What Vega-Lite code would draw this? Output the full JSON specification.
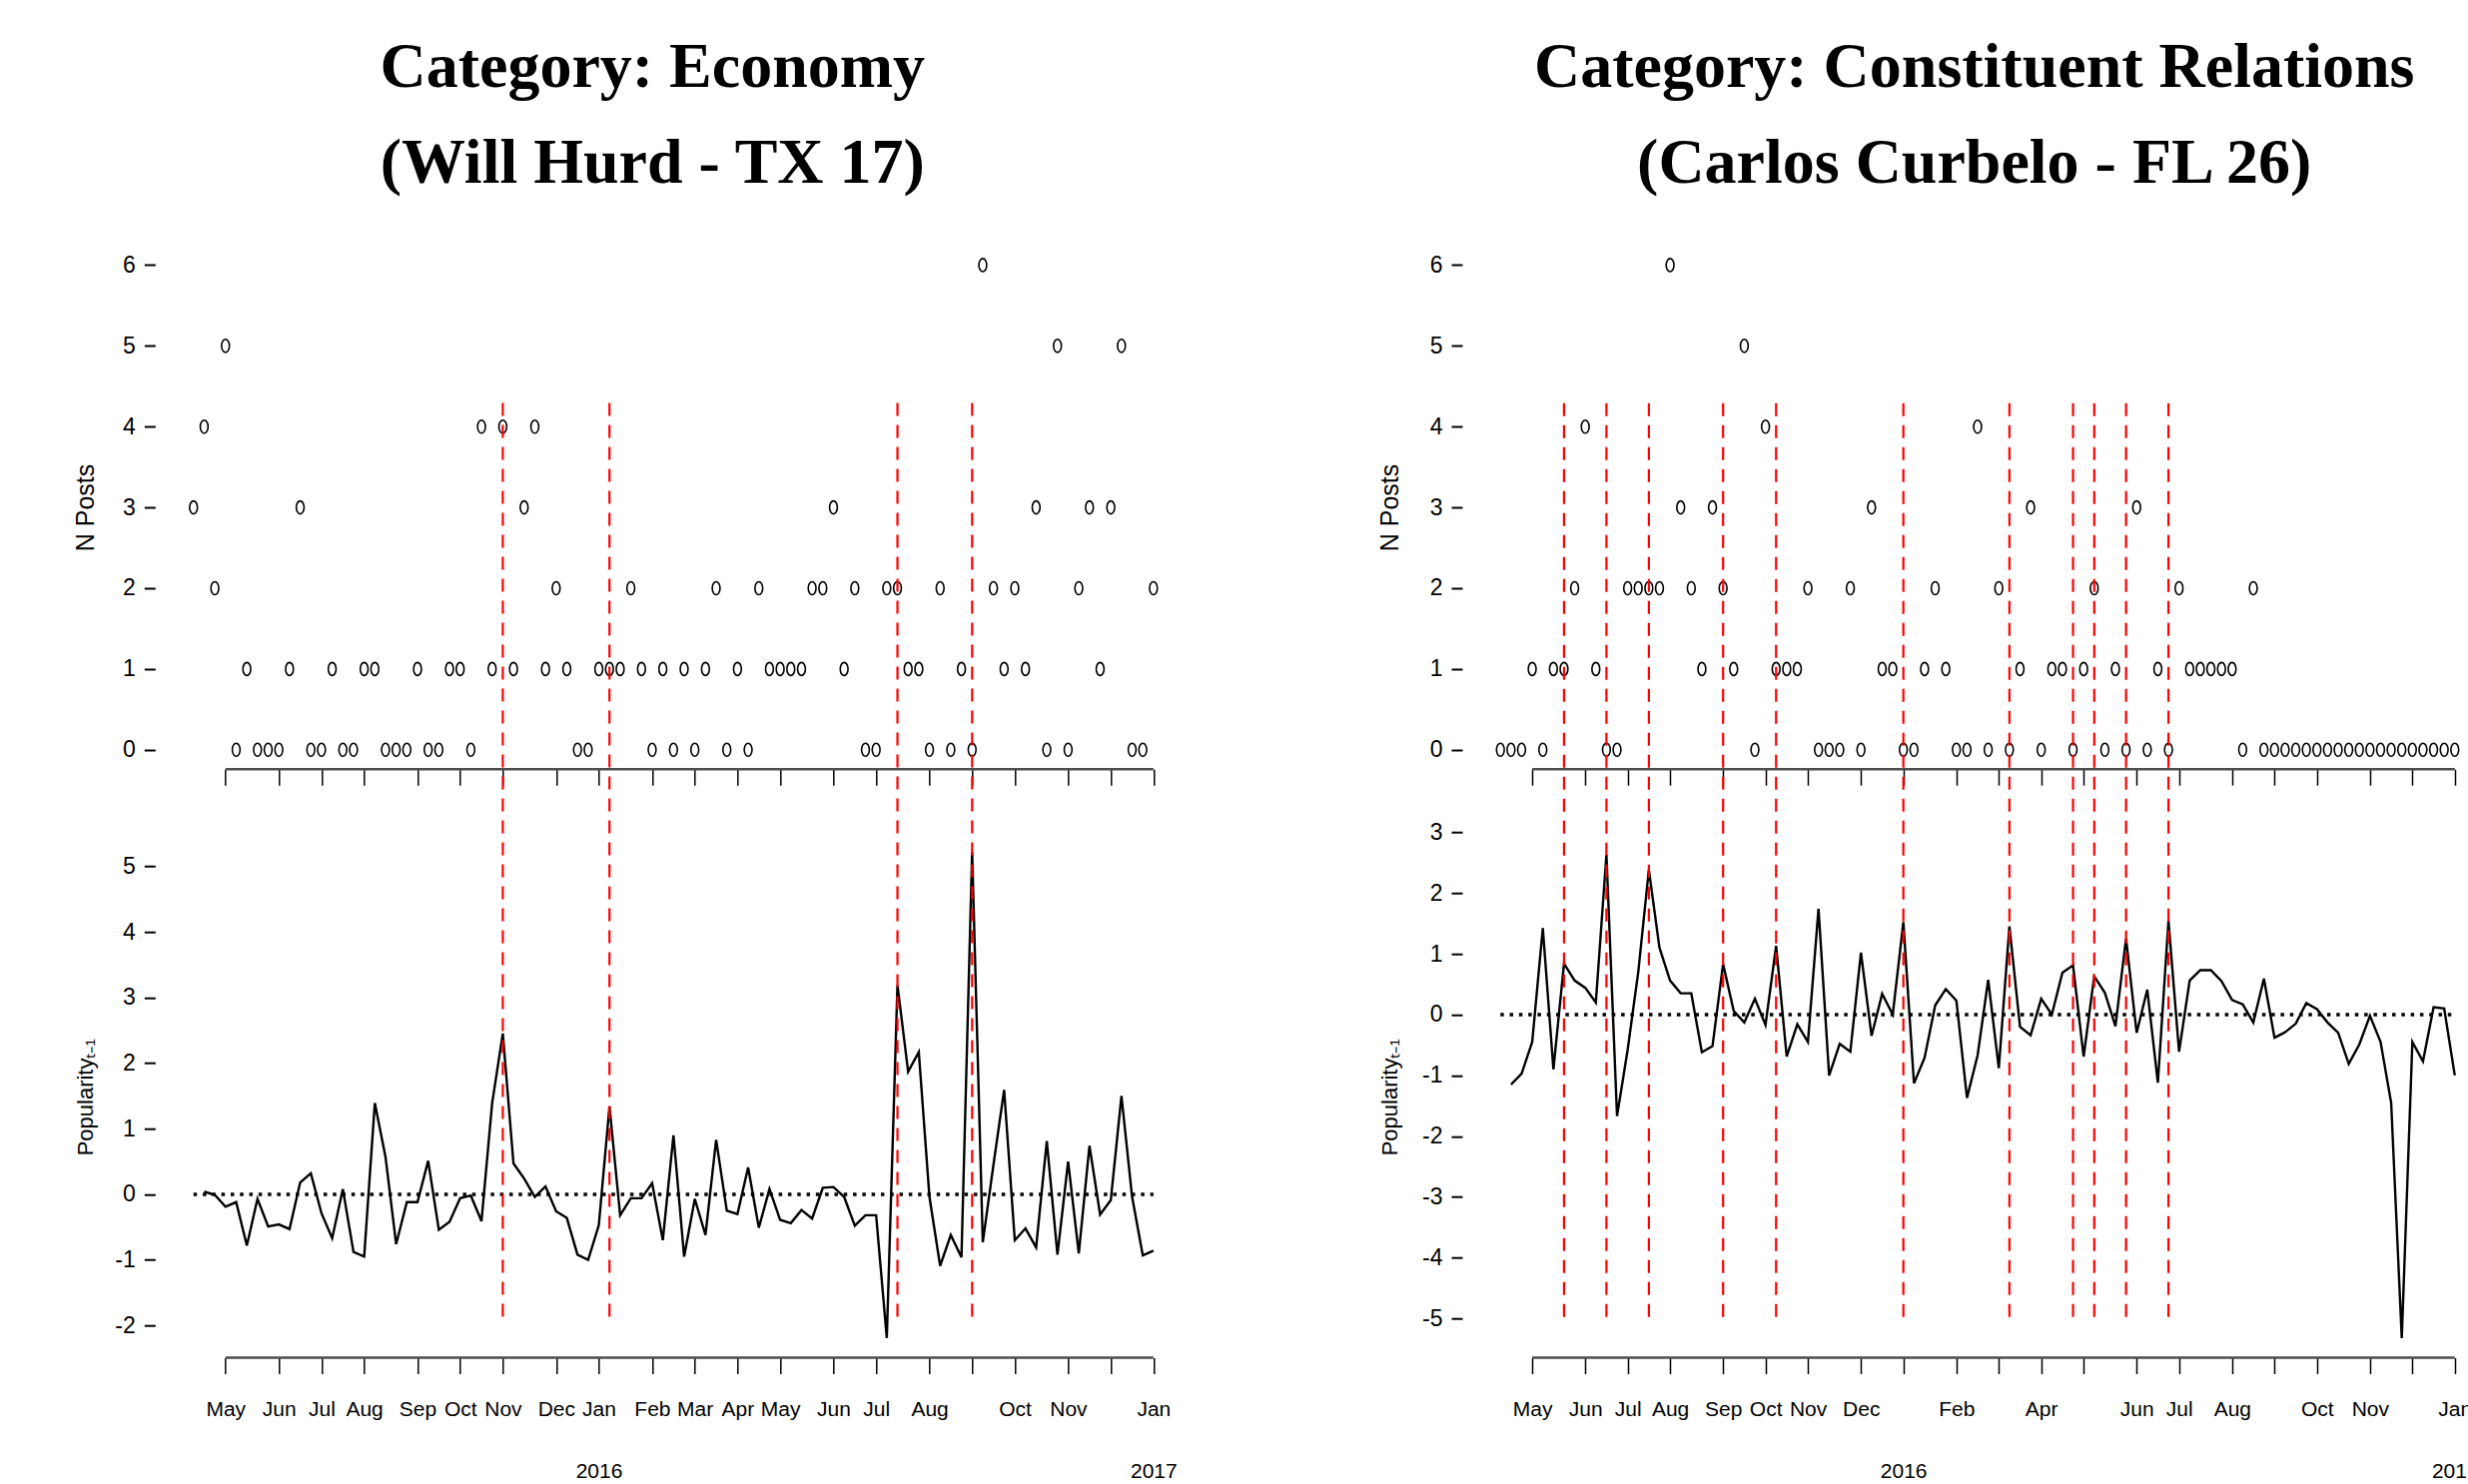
{
  "$schema": "https://vega.github.io/schema/vega-lite/v6.json",
  "usermeta": {"embedOptions": {"actions": false}},
  "background": "white",
  "padding": {"left": 73.3, "top": 36, "right": 0, "bottom": 0},
  "config": {
    "view": {"stroke": null},
    "axis": {
      "grid": false, "domain": false,
      "labelFont": "Liberation Sans, Arial, sans-serif",
      "labelFontSize": 21, "labelColor": "black",
      "tickColor": "black",
      "titleFont": "Liberation Sans, Arial, sans-serif", "titleFontWeight": "normal", "titleFontSize": 22, "titleColor": "black",
      "labelOverlap": false, "labelFlush": false, "labelBound": false
    }
  },
  "datasets": {
    "econ": [
      {"week":0,"posts":3,"pop":null},{"week":1,"posts":4,"pop":0.04},{"week":2,"posts":2,"pop":-0.01},{"week":3,"posts":5,"pop":-0.19},
      {"week":4,"posts":0,"pop":-0.12},{"week":5,"posts":1,"pop":-0.78},{"week":6,"posts":0,"pop":-0.07},{"week":7,"posts":0,"pop":-0.49},
      {"week":8,"posts":0,"pop":-0.46},{"week":9,"posts":1,"pop":-0.53},{"week":10,"posts":3,"pop":0.18},{"week":11,"posts":0,"pop":0.32},
      {"week":12,"posts":0,"pop":-0.29},{"week":13,"posts":1,"pop":-0.67},{"week":14,"posts":0,"pop":0.08},{"week":15,"posts":0,"pop":-0.88},
      {"week":16,"posts":1,"pop":-0.95},{"week":17,"posts":1,"pop":1.39},{"week":18,"posts":0,"pop":0.57},{"week":19,"posts":0,"pop":-0.76},
      {"week":20,"posts":0,"pop":-0.12},{"week":21,"posts":1,"pop":-0.12},{"week":22,"posts":0,"pop":0.51},{"week":23,"posts":0,"pop":-0.54},
      {"week":24,"posts":1,"pop":-0.42},{"week":25,"posts":1,"pop":-0.06},{"week":26,"posts":0,"pop":-0.02},{"week":27,"posts":4,"pop":-0.41},
      {"week":28,"posts":1,"pop":1.39},{"week":29,"posts":4,"pop":2.45},{"week":30,"posts":1,"pop":0.47},{"week":31,"posts":3,"pop":0.24},
      {"week":32,"posts":4,"pop":-0.04},{"week":33,"posts":1,"pop":0.12},{"week":34,"posts":2,"pop":-0.26},{"week":35,"posts":1,"pop":-0.36},
      {"week":36,"posts":0,"pop":-0.92},{"week":37,"posts":0,"pop":-1.0},{"week":38,"posts":1,"pop":-0.47},{"week":39,"posts":1,"pop":1.34},
      {"week":40,"posts":1,"pop":-0.32},{"week":41,"posts":2,"pop":-0.06},{"week":42,"posts":1,"pop":-0.06},{"week":43,"posts":0,"pop":0.17},
      {"week":44,"posts":1,"pop":-0.7},{"week":45,"posts":0,"pop":0.9},{"week":46,"posts":1,"pop":-0.95},{"week":47,"posts":0,"pop":-0.07},
      {"week":48,"posts":1,"pop":-0.62},{"week":49,"posts":2,"pop":0.83},{"week":50,"posts":0,"pop":-0.25},{"week":51,"posts":1,"pop":-0.3},
      {"week":52,"posts":0,"pop":0.41},{"week":53,"posts":2,"pop":-0.51},{"week":54,"posts":1,"pop":0.08},{"week":55,"posts":1,"pop":-0.39},
      {"week":56,"posts":1,"pop":-0.44},{"week":57,"posts":1,"pop":-0.24},{"week":58,"posts":2,"pop":-0.37},{"week":59,"posts":2,"pop":0.1},
      {"week":60,"posts":3,"pop":0.11},{"week":61,"posts":1,"pop":-0.04},{"week":62,"posts":2,"pop":-0.48},{"week":63,"posts":0,"pop":-0.32},
      {"week":64,"posts":0,"pop":-0.32},{"week":65,"posts":2,"pop":-2.19},{"week":66,"posts":2,"pop":3.19},{"week":67,"posts":1,"pop":1.87},
      {"week":68,"posts":1,"pop":2.17},{"week":69,"posts":0,"pop":-0.04},{"week":70,"posts":2,"pop":-1.09},{"week":71,"posts":0,"pop":-0.62},
      {"week":72,"posts":1,"pop":-0.96},{"week":73,"posts":0,"pop":5.22},{"week":74,"posts":6,"pop":-0.73},{"week":75,"posts":2,"pop":0.45},
      {"week":76,"posts":1,"pop":1.59},{"week":77,"posts":2,"pop":-0.7},{"week":78,"posts":1,"pop":-0.52},{"week":79,"posts":3,"pop":-0.81},
      {"week":80,"posts":0,"pop":0.81},{"week":81,"posts":5,"pop":-0.92},{"week":82,"posts":0,"pop":0.5},{"week":83,"posts":2,"pop":-0.9},
      {"week":84,"posts":3,"pop":0.74},{"week":85,"posts":1,"pop":-0.31},{"week":86,"posts":3,"pop":-0.09},{"week":87,"posts":5,"pop":1.5},
      {"week":88,"posts":0,"pop":-0.04},{"week":89,"posts":0,"pop":-0.93},{"week":90,"posts":2,"pop":-0.86}
    ],
    "cons": [
      {"week":0,"posts":0,"pop":null},{"week":1,"posts":0,"pop":-1.15},{"week":2,"posts":0,"pop":-0.97},{"week":3,"posts":1,"pop":-0.45},
      {"week":4,"posts":0,"pop":1.42},{"week":5,"posts":1,"pop":-0.9},{"week":6,"posts":1,"pop":0.84},{"week":7,"posts":2,"pop":0.56},
      {"week":8,"posts":4,"pop":0.44},{"week":9,"posts":1,"pop":0.2},{"week":10,"posts":0,"pop":2.63},{"week":11,"posts":0,"pop":-1.67},
      {"week":12,"posts":2,"pop":-0.58},{"week":13,"posts":2,"pop":0.7},{"week":14,"posts":2,"pop":2.38},{"week":15,"posts":2,"pop":1.1},
      {"week":16,"posts":6,"pop":0.56},{"week":17,"posts":3,"pop":0.35},{"week":18,"posts":2,"pop":0.35},{"week":19,"posts":1,"pop":-0.62},
      {"week":20,"posts":3,"pop":-0.52},{"week":21,"posts":2,"pop":0.83},{"week":22,"posts":1,"pop":0.06},{"week":23,"posts":5,"pop":-0.13},
      {"week":24,"posts":0,"pop":0.26},{"week":25,"posts":4,"pop":-0.17},{"week":26,"posts":1,"pop":1.13},{"week":27,"posts":1,"pop":-0.69},
      {"week":28,"posts":1,"pop":-0.16},{"week":29,"posts":2,"pop":-0.45},{"week":30,"posts":0,"pop":1.74},{"week":31,"posts":0,"pop":-1.0},
      {"week":32,"posts":0,"pop":-0.48},{"week":33,"posts":2,"pop":-0.61},{"week":34,"posts":0,"pop":1.02},{"week":35,"posts":3,"pop":-0.35},
      {"week":36,"posts":1,"pop":0.34},{"week":37,"posts":1,"pop":0.0},{"week":38,"posts":0,"pop":1.52},{"week":39,"posts":0,"pop":-1.13},
      {"week":40,"posts":1,"pop":-0.71},{"week":41,"posts":2,"pop":0.15},{"week":42,"posts":1,"pop":0.42},{"week":43,"posts":0,"pop":0.23},
      {"week":44,"posts":0,"pop":-1.37},{"week":45,"posts":4,"pop":-0.67},{"week":46,"posts":0,"pop":0.57},{"week":47,"posts":2,"pop":-0.88},
      {"week":48,"posts":0,"pop":1.45},{"week":49,"posts":1,"pop":-0.2},{"week":50,"posts":3,"pop":-0.34},{"week":51,"posts":0,"pop":0.26},
      {"week":52,"posts":1,"pop":0.0},{"week":53,"posts":1,"pop":0.69},{"week":54,"posts":0,"pop":0.81},{"week":55,"posts":1,"pop":-0.69},
      {"week":56,"posts":2,"pop":0.63},{"week":57,"posts":0,"pop":0.36},{"week":58,"posts":1,"pop":-0.19},{"week":59,"posts":0,"pop":1.25},
      {"week":60,"posts":3,"pop":-0.3},{"week":61,"posts":0,"pop":0.41},{"week":62,"posts":1,"pop":-1.12},{"week":63,"posts":0,"pop":1.54},
      {"week":64,"posts":2,"pop":-0.61},{"week":65,"posts":1,"pop":0.56},{"week":66,"posts":1,"pop":0.73},{"week":67,"posts":1,"pop":0.73},
      {"week":68,"posts":1,"pop":0.55},{"week":69,"posts":1,"pop":0.24},{"week":70,"posts":0,"pop":0.17},{"week":71,"posts":2,"pop":-0.13},
      {"week":72,"posts":0,"pop":0.59},{"week":73,"posts":0,"pop":-0.38},{"week":74,"posts":0,"pop":-0.29},{"week":75,"posts":0,"pop":-0.15},
      {"week":76,"posts":0,"pop":0.19},{"week":77,"posts":0,"pop":0.09},{"week":78,"posts":0,"pop":-0.13},{"week":79,"posts":0,"pop":-0.3},
      {"week":80,"posts":0,"pop":-0.81},{"week":81,"posts":0,"pop":-0.49},{"week":82,"posts":0,"pop":-0.02},{"week":83,"posts":0,"pop":-0.45},
      {"week":84,"posts":0,"pop":-1.45},{"week":85,"posts":0,"pop":-5.32},{"week":86,"posts":0,"pop":-0.45},{"week":87,"posts":0,"pop":-0.77},
      {"week":88,"posts":0,"pop":0.12},{"week":89,"posts":0,"pop":0.1},{"week":90,"posts":0,"pop":-1.0}
    ],
    "econ_v": [{"week":29},{"week":39},{"week":66},{"week":73}],
    "cons_v": [{"week":6},{"week":10},{"week":14},{"week":21},{"week":26},{"week":38},{"week":48},{"week":54},{"week":56},{"week":59},{"week":63}]
  },
  "hconcat": [
    {
      "title": {"text": ["Category: Economy", "(Will Hurd - TX 17)"], "font": "Liberation Serif", "fontWeight": "bold", "fontSize": 64, "lineHeight": 96, "color": "black", "anchor": "middle", "frame": "bounds", "offset": 50, "dx": 20},
      "spacing": 62.2,
      "bounds": "flush",
      "resolve": {"scale": {"x": "independent", "y": "independent"}},
      "vconcat": [
        {
          "width": 1038, "height": 524.2,
          "layer": [
            {"data": {"values": [{}]},
             "mark": {"type": "rule", "color": "#4d4d4d", "strokeWidth": 2.5},
             "encoding": {"x": {"datum": 3, "type": "quantitative"}, "x2": {"datum": 90}, "y": {"datum": -0.24, "type": "quantitative"}}},
            {"data": {"name": "econ"},
             "mark": {"type": "point", "shape": "M0,-1A0.6,1,0,1,1,0,1A0.6,1,0,1,1,0,-1Z", "filled": false, "stroke": "black", "strokeWidth": 1.6, "size": 170, "opacity": 1},
             "encoding": {
               "x": {"field": "week", "type": "quantitative", "scale": {"domain": [-3.6, 93.6], "nice": false, "zero": false},
                     "axis": {"values": [3,8,12,16,21,25,29,34,38,43,47,51,55,60,64,69,73,77,82,86,90], "labels": false, "tickSize": 16, "tickWidth": 1.5, "title": null}},
               "y": {"field": "posts", "type": "quantitative", "scale": {"domain": [-0.24, 6.24], "nice": false, "zero": false},
                     "axis": {"values": [0,1,2,3,4,5,6], "labelExpr": "'' + datum.value", "labelFontSize": 23, "tickSize": 11, "tickWidth": 2, "labelPadding": 9, "title": "N Posts", "titleFontSize": 25, "titleX": -70, "titleY": 262, "titleAngle": -90, "titleAlign": "center", "titleBaseline": "middle"}}
             }}
          ]
        },
        {
          "width": 1038, "height": 526.3,
          "layer": [
            {"data": {"values": [{}]},
             "mark": {"type": "rule", "color": "#4d4d4d", "strokeWidth": 2.5},
             "encoding": {"x": {"datum": 3, "type": "quantitative"}, "x2": {"datum": 90}, "y": {"datum": -2.49, "type": "quantitative"}}},
            {"data": {"values": [{}]},
             "mark": {"type": "rule", "color": "black", "strokeWidth": 3.5, "strokeDash": [3.5, 5.8]},
             "encoding": {"x": {"datum": 0, "type": "quantitative"}, "x2": {"datum": 90}, "y": {"datum": 0, "type": "quantitative"}}},
            {"data": {"name": "econ"},
             "mark": {"type": "line", "color": "black", "strokeWidth": 2.4},
             "encoding": {
               "x": {"field": "week", "type": "quantitative", "scale": {"domain": [-3.6, 93.6], "nice": false, "zero": false},
                     "axis": {"values": [3,8,12,16,21,25,29,34,38,43,47,51,55,60,64,69,73,77,82,86,90], "tickSize": 16, "tickWidth": 1.5, "labelPadding": 25, "labelLineHeight": 62, "title": null,
                              "labelExpr": "['May','Jun','Jul','Aug','Sep','Oct','Nov','Dec',['Jan','2016'],'Feb','Mar','Apr','May','Jun','Jul','Aug','','Oct','Nov','',['Jan','2017']][indexof([3,8,12,16,21,25,29,34,38,43,47,51,55,60,64,69,73,77,82,86,90], datum.value)]"}},
               "y": {"field": "pop", "type": "quantitative", "scale": {"domain": [-2.49, 5.52], "nice": false, "zero": false},
                     "axis": {"values": [-2,-1,0,1,2,3,4,5], "labelExpr": "'' + datum.value", "labelFontSize": 23, "tickSize": 11, "tickWidth": 2, "labelPadding": 9, "title": "Popularityₜ₋₁", "titleX": -70, "titleY": 265, "titleAngle": -90, "titleAlign": "center", "titleBaseline": "middle"}}
             }},
            {"data": {"name": "econ_v"},
             "mark": {"type": "rule", "color": "#ff0000", "strokeWidth": 2.2, "strokeDash": [13, 9]},
             "encoding": {"x": {"field": "week", "type": "quantitative"}, "y": {"datum": 12.06, "type": "quantitative"}, "y2": {"datum": -2}}}
          ]
        }
      ]
    },
    {
      "title": {"text": ["Category: Constituent Relations", "(Carlos Curbelo - FL 26)"], "font": "Liberation Serif", "fontWeight": "bold", "fontSize": 64, "lineHeight": 96, "color": "black", "anchor": "middle", "frame": "bounds", "offset": 50, "dx": 39},
      "spacing": 62.2,
      "bounds": "flush",
      "resolve": {"scale": {"x": "independent", "y": "independent"}},
      "vconcat": [
        {
          "width": 1032, "height": 524.2,
          "layer": [
            {"data": {"values": [{}]},
             "mark": {"type": "rule", "color": "#4d4d4d", "strokeWidth": 2.5},
             "encoding": {"x": {"datum": 3, "type": "quantitative"}, "x2": {"datum": 90}, "y": {"datum": -0.24, "type": "quantitative"}}},
            {"data": {"name": "cons"},
             "mark": {"type": "point", "shape": "M0,-1A0.6,1,0,1,1,0,1A0.6,1,0,1,1,0,-1Z", "filled": false, "stroke": "black", "strokeWidth": 1.6, "size": 170, "opacity": 1},
             "encoding": {
               "x": {"field": "week", "type": "quantitative", "scale": {"domain": [-3.6, 93.6], "nice": false, "zero": false},
                     "axis": {"values": [3,8,12,16,21,25,29,34,38,43,47,51,55,60,64,69,73,77,82,86,90], "labels": false, "tickSize": 16, "tickWidth": 1.5, "title": null}},
               "y": {"field": "posts", "type": "quantitative", "scale": {"domain": [-0.24, 6.24], "nice": false, "zero": false},
                     "axis": {"values": [0,1,2,3,4,5,6], "labelExpr": "'' + datum.value", "labelFontSize": 23, "tickSize": 11, "tickWidth": 2, "labelPadding": 9, "title": "N Posts", "titleFontSize": 25, "titleX": -72.5, "titleY": 262, "titleAngle": -90, "titleAlign": "center", "titleBaseline": "middle"}}
             }}
          ]
        },
        {
          "width": 1032, "height": 526.3,
          "layer": [
            {"data": {"values": [{}]},
             "mark": {"type": "rule", "color": "#4d4d4d", "strokeWidth": 2.5},
             "encoding": {"x": {"datum": 3, "type": "quantitative"}, "x2": {"datum": 90}, "y": {"datum": -5.64, "type": "quantitative"}}},
            {"data": {"values": [{}]},
             "mark": {"type": "rule", "color": "black", "strokeWidth": 3.5, "strokeDash": [3.5, 5.8]},
             "encoding": {"x": {"datum": 0, "type": "quantitative"}, "x2": {"datum": 90}, "y": {"datum": 0, "type": "quantitative"}}},
            {"data": {"name": "cons"},
             "mark": {"type": "line", "color": "black", "strokeWidth": 2.4},
             "encoding": {
               "x": {"field": "week", "type": "quantitative", "scale": {"domain": [-3.6, 93.6], "nice": false, "zero": false},
                     "axis": {"values": [3,8,12,16,21,25,29,34,38,43,47,51,55,60,64,69,73,77,82,86,90], "tickSize": 16, "tickWidth": 1.5, "labelPadding": 25, "labelLineHeight": 62, "title": null,
                              "labelExpr": "['May','Jun','Jul','Aug','Sep','Oct','Nov','Dec',[' ','2016'],'Feb','','Apr','','Jun','Jul','Aug','','Oct','Nov','',['Jan','2017']][indexof([3,8,12,16,21,25,29,34,38,43,47,51,55,60,64,69,73,77,82,86,90], datum.value)]"}},
               "y": {"field": "pop", "type": "quantitative", "scale": {"domain": [-5.64, 3.0], "nice": false, "zero": false},
                     "axis": {"values": [-5,-4,-3,-2,-1,0,1,2,3], "labelExpr": "'' + datum.value", "labelFontSize": 23, "tickSize": 11, "tickWidth": 2, "labelPadding": 9, "title": "Popularityₜ₋₁", "titleX": -72.5, "titleY": 265, "titleAngle": -90, "titleAlign": "center", "titleBaseline": "middle"}}
             }},
            {"data": {"name": "cons_v"},
             "mark": {"type": "rule", "color": "#ff0000", "strokeWidth": 2.2, "strokeDash": [13, 9]},
             "encoding": {"x": {"field": "week", "type": "quantitative"}, "y": {"datum": 10.05, "type": "quantitative"}, "y2": {"datum": -5}}}
          ]
        }
      ]
    }
  ],
  "spacing": 185.7,
  "resolve": {"scale": {"x": "independent", "y": "independent"}}
}
